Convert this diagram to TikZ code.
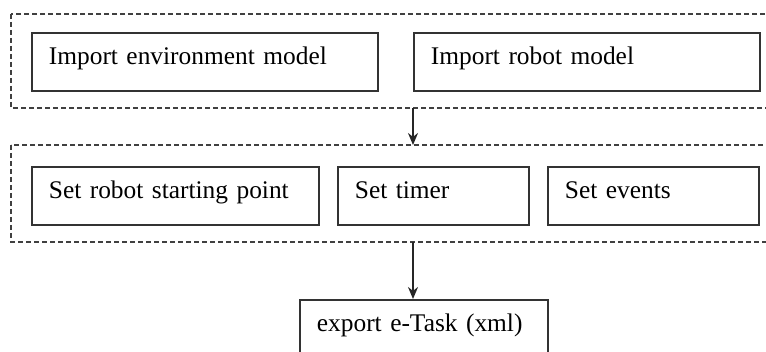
\documentclass[tikz,border=0pt]{standalone}
\usepackage{fontspec}
\setmainfont{Liberation Serif}
\usepackage{xcolor}
\usetikzlibrary{arrows.meta}

\begin{document}
\begin{tikzpicture}[x=1pt, y=-1pt,
    task/.style={draw=black!80, line width=1.8pt, anchor=north west, inner xsep=17pt, inner ysep=0pt,
        minimum height=58pt, text height=17pt, text depth=11pt, align=left,
        font=\fontsize{25.4}{30}\selectfont},
    group/.style={draw=black!75, line width=2.2pt, dash pattern=on 5pt off 3pt},
    flow/.style={draw=black!85, line width=1.5pt, -{Stealth[length=12pt, width=10pt]}}]

    \useasboundingbox (0,0) rectangle (766,352);
    \clip (0,0) rectangle (766,352);

    % models
    \draw[group] (11,14) rectangle (790,108);
    \node[task, text width=312pt] (envmodel) at (31,32) {Import environment model};
    \node[task, text width=312pt] (robotmodel) at (413,32) {Import robot model};

    % settings
    \draw[group] (11,145) rectangle (790,242);
    \node[task, text width=253pt] (startpoint) at (31,166) {Set robot starting point};
    \node[task, text width=157pt] (timer) at (337,166) {Set timer};
    \node[task, text width=177pt] (events) at (547,166) {Set events};

    % export
    \node[task, text width=214pt, minimum height=90pt, text depth=43pt] (export) at (299,299) {export e-Task (xml)};

    \coordinate (modelsout) at (413,108);
    \coordinate (settingsin) at (413,145);
    \coordinate (settingsout) at (413,242);

    \draw[flow] (modelsout) -- (settingsin);
    \draw[flow] (settingsout) -- (settingsout |- export.north);

\end{tikzpicture}
\end{document}
